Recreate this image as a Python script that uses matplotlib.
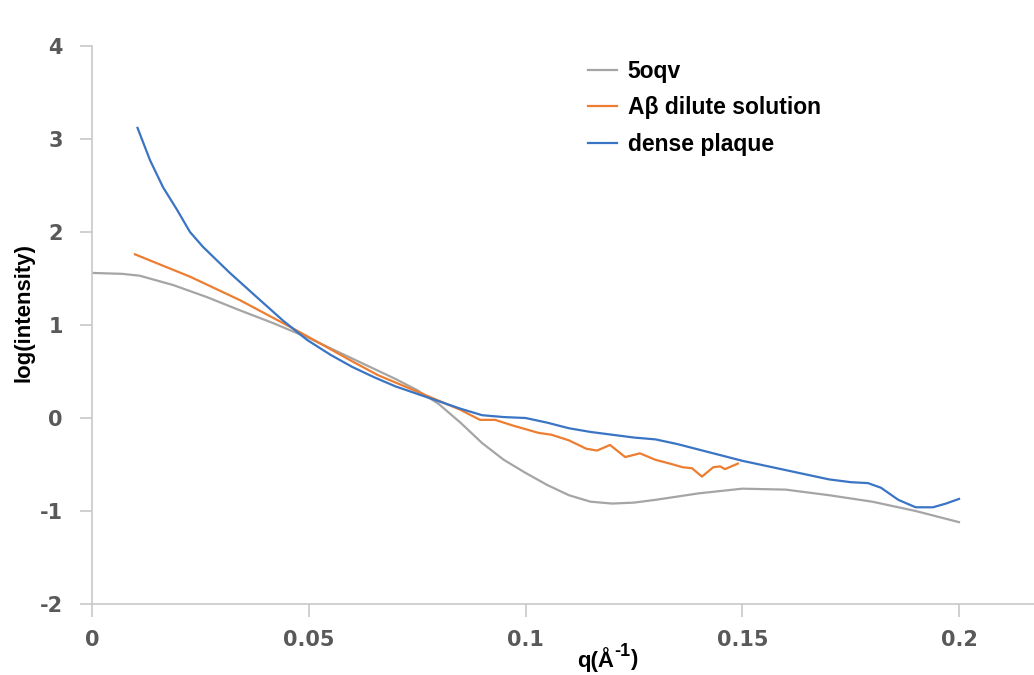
import matplotlib
matplotlib.use('Agg')
import matplotlib.pyplot as plt

# 5oqv (model)
q_5oqv = [0, 0.007, 0.011, 0.0187, 0.0265, 0.034, 0.0418, 0.05, 0.06, 0.07, 0.075,
          0.08, 0.085, 0.09, 0.095, 0.1, 0.105, 0.11, 0.115, 0.12, 0.125, 0.13,
          0.14, 0.15, 0.16, 0.17, 0.18, 0.19, 0.2]
i_5oqv = [1.56, 1.55, 1.53, 1.43, 1.30, 1.16, 1.02, 0.86, 0.64, 0.42, 0.30,
          0.15, -0.05, -0.27, -0.45, -0.59, -0.72, -0.83, -0.90, -0.92, -0.91, -0.88,
          -0.81, -0.76, -0.77, -0.83, -0.90, -1.0, -1.12]

# Abeta dilute solution
q_dilute = [0.0099, 0.0226, 0.034, 0.0457, 0.05, 0.06, 0.066, 0.0757, 0.0849, 0.0895,
            0.093, 0.097, 0.103, 0.106, 0.110, 0.114, 0.1165, 0.1195, 0.123, 0.1264,
            0.130, 0.1333, 0.1363, 0.1384, 0.1407, 0.1433, 0.1449, 0.146, 0.149]
i_dilute = [1.76, 1.52, 1.27, 0.98, 0.87, 0.61, 0.46, 0.27, 0.09, -0.02,
            -0.02, -0.08, -0.16, -0.18, -0.24, -0.33, -0.35, -0.29, -0.42, -0.38,
            -0.45, -0.49, -0.53, -0.54, -0.63, -0.53, -0.52, -0.55, -0.49]

# dense plaque
q_plaque = [0.0105, 0.0134, 0.0164, 0.0196, 0.0226, 0.0256, 0.0318, 0.038, 0.044,
            0.0496, 0.055, 0.06, 0.065, 0.07, 0.075, 0.08, 0.085, 0.09, 0.095, 0.1,
            0.105, 0.11, 0.115, 0.12, 0.125, 0.13, 0.135, 0.14, 0.145, 0.15, 0.155,
            0.16, 0.165, 0.17, 0.175, 0.179, 0.182, 0.186, 0.19, 0.194, 0.197, 0.2]
i_plaque = [3.12, 2.77, 2.48, 2.24, 2.00, 1.84, 1.56, 1.30, 1.05,
            0.84, 0.68, 0.55, 0.44, 0.34, 0.26, 0.18, 0.10, 0.03, 0.01, 0.0,
            -0.05, -0.11, -0.15, -0.18, -0.21, -0.23, -0.28, -0.34, -0.40, -0.46, -0.51,
            -0.56, -0.61, -0.66, -0.69, -0.70, -0.75, -0.88, -0.96, -0.96, -0.92, -0.87]

xticks = [0, 0.05, 0.1, 0.15, 0.2]
xtick_labels = ['0', '0.05', '0.1', '0.15', '0.2']
yticks = [-2, -1, 0, 1, 2, 3, 4]
ytick_labels = ['-2', '-1', '0', '1', '2', '3', '4']

text_font = ['Liberation Sans', 'DejaVu Sans']

fig = plt.figure(figsize=(10.34, 6.75), dpi=100)
ax = fig.add_axes([92/1034, 1-604/675, 1-92/1034, (604-46)/675])

ax.plot(q_5oqv, i_5oqv, color='#a5a5a5', lw=1.6, label='5oqv')
ax.plot(q_dilute, i_dilute, color='#ed7d31', lw=1.6, label='A\u03b2 dilute solution')
ax.plot(q_plaque, i_plaque, color='#3a74c4', lw=1.6, label='dense plaque')

ax.set_xlim(0, 0.2 * (1034-92) / 867)
ax.set_ylim(-2, 4)
ax.set_xticks(xticks)
ax.set_xticklabels(xtick_labels)
ax.set_yticks(yticks)
ax.set_yticklabels(ytick_labels)

for s in ['top', 'right']:
    ax.spines[s].set_visible(False)
for s in ['left', 'bottom']:
    ax.spines[s].set_color('#c8c8c8')
    ax.spines[s].set_linewidth(1.2)
ax.tick_params(axis='both', color='#c8c8c8', width=1.2, length=9,
               labelcolor='#595959', labelsize=15)
ax.tick_params(axis='x', pad=10)
ax.tick_params(axis='y', pad=12)
for lab in ax.get_xticklabels() + ax.get_yticklabels():
    lab.set_family('DejaVu Sans')
    lab.set_fontweight('bold')

# x label: q(Å^-1) with a plain hyphen in the exponent
fig.text(614/1034, 1-660/675, 'q(\u00c5', ha='right', va='center',
         fontsize=16, fontweight='bold', family=text_font)
fig.text(614/1034, 1-651/675, '-1', ha='left', va='center',
         fontsize=13, fontweight='bold', family=text_font)
fig.text(630/1034, 1-660/675, ')', ha='left', va='center',
         fontsize=16, fontweight='bold', family=text_font)
fig.text(24/1034, 1-312/675, 'log(intensity)', rotation=90, ha='center', va='center',
         fontsize=16, fontweight='bold', family=text_font)

leg = ax.legend(loc='upper left', bbox_to_anchor=((567-92)/942, 1-(39-46)/558),
                frameon=False, handlelength=1.3, handletextpad=0.45, labelspacing=0.6,
                prop={'family': text_font, 'weight': 'bold', 'size': 16.5})

fig.savefig('out.png', dpi=100)
